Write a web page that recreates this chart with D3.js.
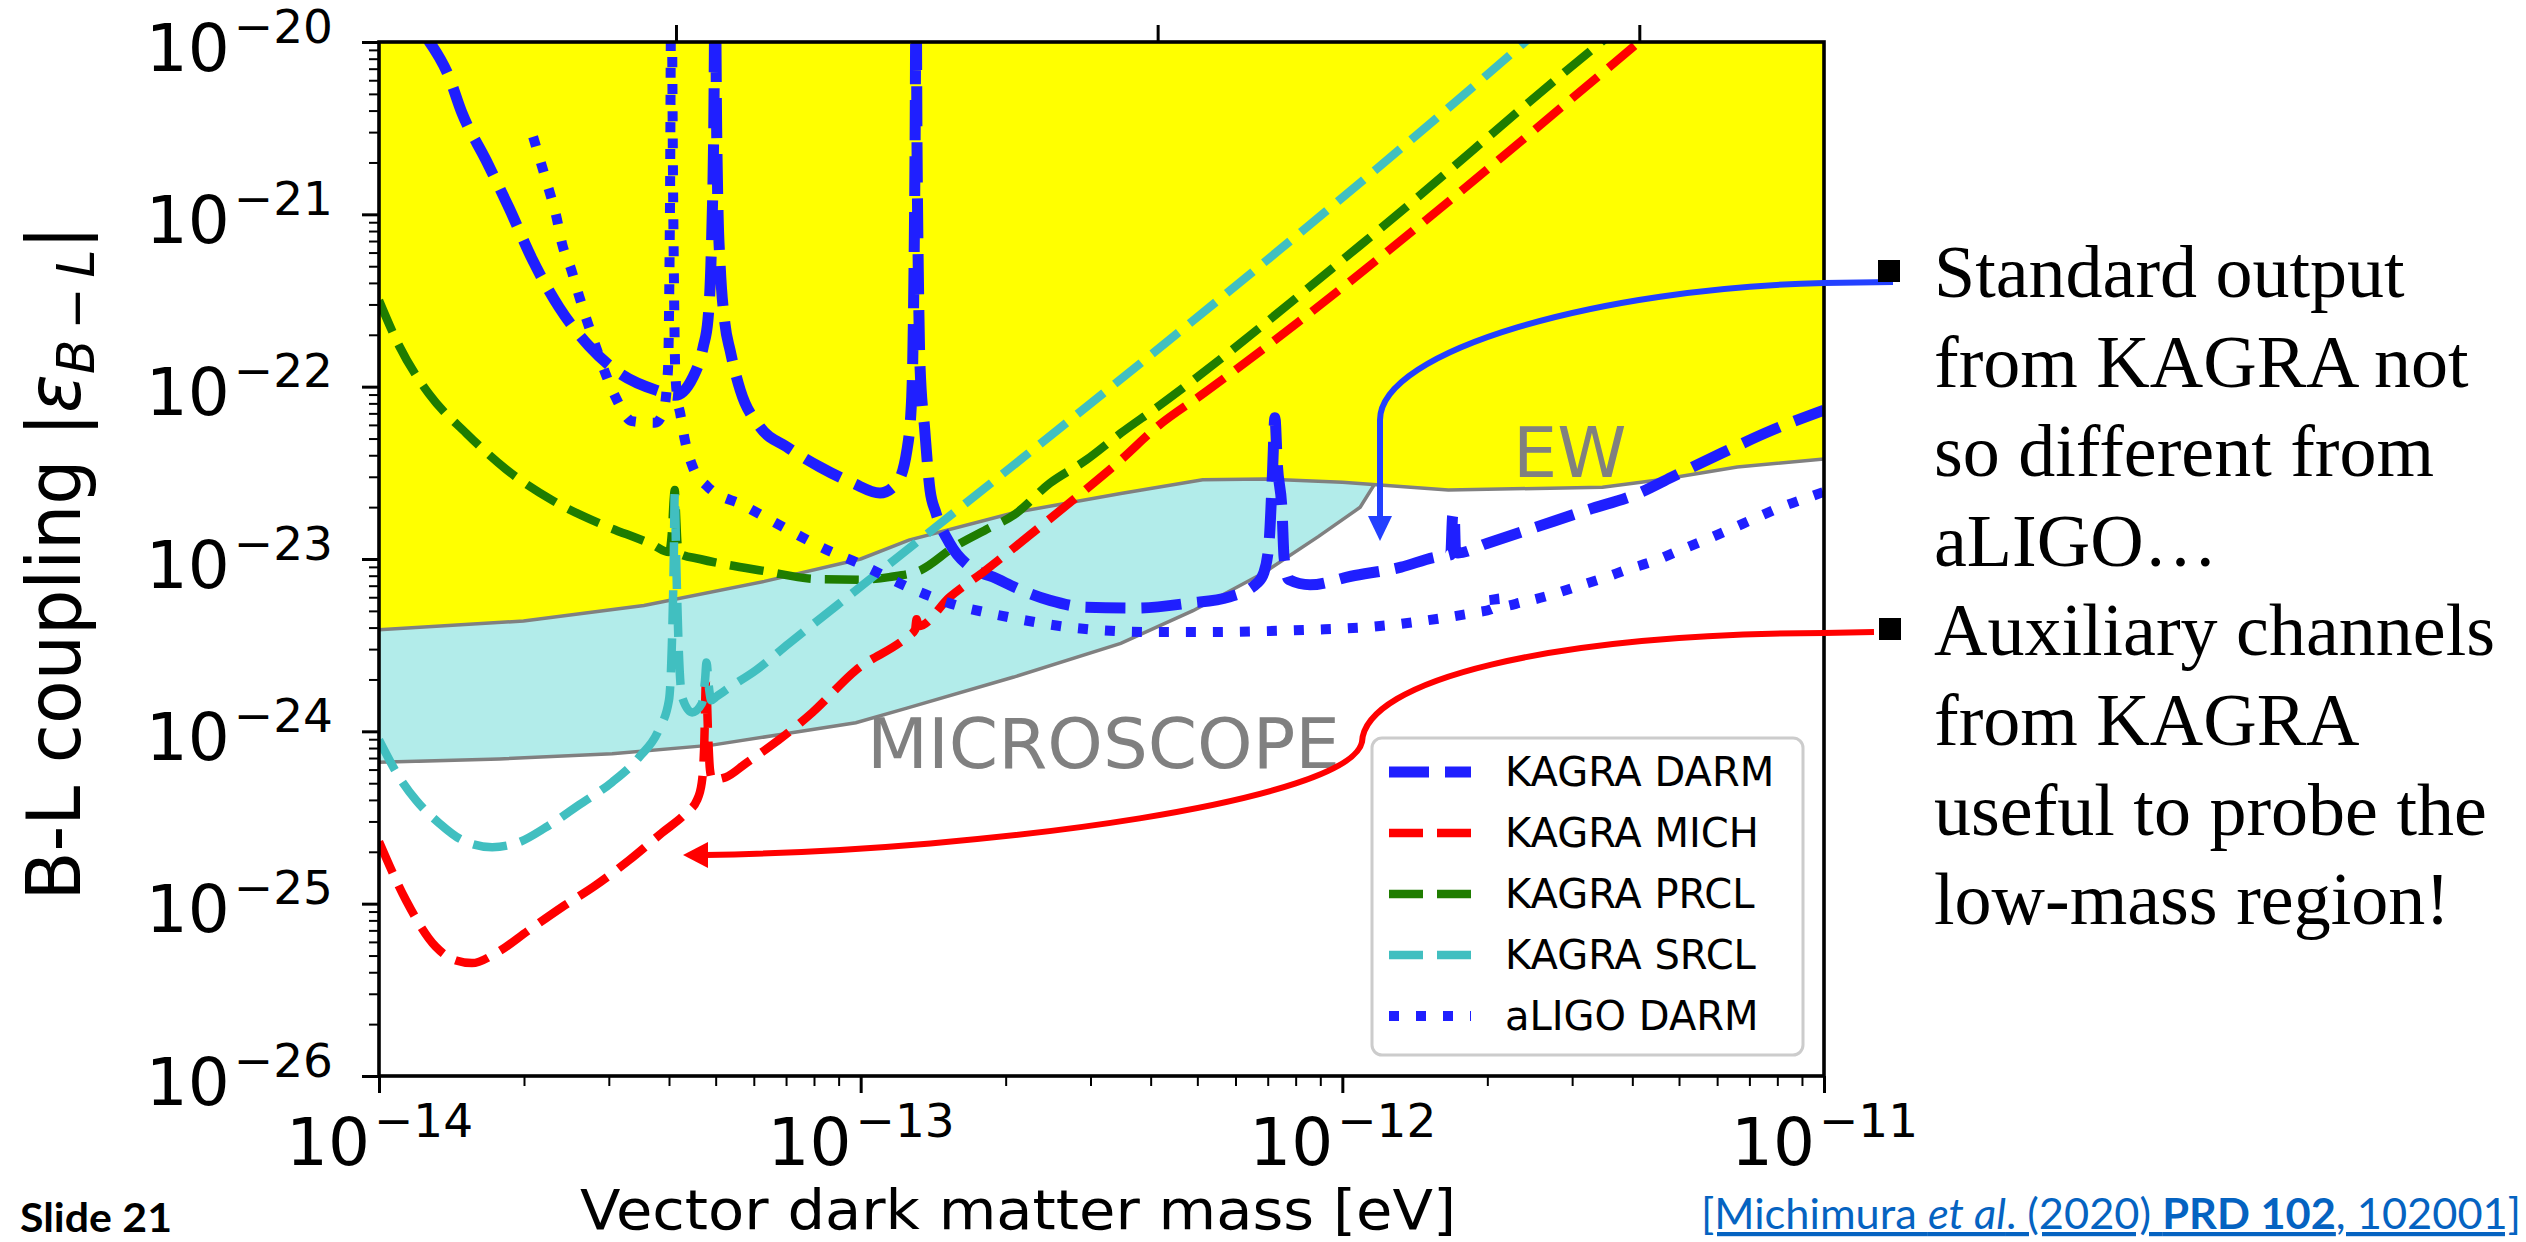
<!DOCTYPE html>
<html>
<head>
<meta charset="utf-8">
<title>Vector dark matter B-L coupling</title>
<script src="https://d3js.org/d3.v7.min.js"></script>
<style>
  body { margin: 0; background: white; }
  svg text { font-family: 'DejaVu Sans', sans-serif; }
  .serif { font-family: 'Liberation Serif', 'Times New Roman', serif; }
</style>
</head>
<body>
<div id="chart"></div>
<script>
// every pair is [log10 mass (eV), log10 |eps_B-L|]
var ewLine = [[-14.0,-23.41],[-13.7,-23.36],[-13.45,-23.27],[-13.2,-23.13],[-13.0,-23.0],[-12.9,-22.89],
  [-12.68,-22.73],[-12.46,-22.62],[-12.29,-22.54],[-12.16,-22.536],[-12.0,-22.555],[-11.78,-22.6],
  [-11.46,-22.583],[-11.34,-22.54],[-11.18,-22.466],[-11.0,-22.42]];

var microscopeLine = [[-14.0,-24.18],[-13.75,-24.16],[-13.516,-24.13],[-13.309,-24.08],[-13.17,-24.02],
  [-13.01,-23.95],[-12.904,-23.865],[-12.682,-23.685],[-12.46,-23.49],[-12.31,-23.3],[-12.163,-23.08],
  [-12.05,-22.87],[-11.963,-22.70],[-11.934,-22.57]];

var darm = [[-13.9,-19.98],[-13.855,-20.2],[-13.828,-20.41],[-13.778,-20.685],[-13.73,-20.963],[-13.682,-21.26],
  [-13.626,-21.54],[-13.564,-21.764],[-13.496,-21.93],[-13.425,-22.02],[-13.385,-22.05],[-13.348,-21.944],
  [-13.327,-21.77],[-13.317,-21.61],[-13.31,-21.2],[-13.305,-20.5],[-13.302,-19.6],[-13.299,-20.5],
  [-13.296,-21.0],[-13.292,-21.28],[-13.282,-21.63],[-13.271,-21.79],[-13.25,-22.02],[-13.209,-22.234],
  [-13.153,-22.35],[-13.084,-22.467],[-13.016,-22.56],[-12.96,-22.617],[-12.925,-22.56],[-12.904,-22.37],
  [-12.894,-22.06],[-12.89,-21.5],[-12.887,-20.6],[-12.885,-19.6],[-12.883,-20.6],[-12.88,-21.4],
  [-12.877,-21.863],[-12.867,-22.25],[-12.856,-22.6],[-12.844,-22.73],[-12.815,-22.91],[-12.771,-23.05],
  [-12.725,-23.105],[-12.667,-23.18],[-12.607,-23.24],[-12.532,-23.28],[-12.428,-23.285],[-12.318,-23.256],
  [-12.235,-23.22],[-12.177,-23.14],[-12.163,-23.08],[-12.152,-22.9],[-12.145,-22.5],[-12.14,-22.18],
  [-12.135,-22.45],[-12.125,-22.73],[-12.121,-22.99],[-12.111,-23.12],[-12.067,-23.15],[-11.982,-23.1],
  [-11.878,-23.047],[-11.808,-22.99],[-11.775,-22.975],[-11.771,-22.75],[-11.768,-22.73],[-11.765,-22.95],
  [-11.76,-22.965],[-11.70,-22.91],[-11.598,-22.815],[-11.492,-22.716],[-11.386,-22.62],[-11.316,-22.525],
  [-11.212,-22.385],[-11.106,-22.25],[-11.0,-22.136]];

var mich = [[-14.0,-24.64],[-13.944,-24.98],[-13.882,-25.25],[-13.84,-25.33],[-13.807,-25.345],[-13.757,-25.287],
  [-13.689,-25.154],[-13.62,-25.02],[-13.55,-24.893],[-13.481,-24.748],[-13.413,-24.59],[-13.363,-24.475],
  [-13.34,-24.40],[-13.33,-24.30],[-13.325,-24.1],[-13.321,-23.70],[-13.317,-24.0],[-13.313,-24.22],
  [-13.308,-24.28],[-13.28,-24.266],[-13.238,-24.185],[-13.17,-24.05],[-13.10,-23.89],[-13.01,-23.645],
  [-12.904,-23.453],[-12.887,-23.41],[-12.884,-23.35],[-12.88,-23.39],[-12.815,-23.221],[-12.74,-23.064],
  [-12.644,-22.85],[-12.547,-22.63],[-12.46,-22.426],[-12.385,-22.234],[-12.287,-22.037],[-11.384,-20.0],
  [-11.35,-19.92]];

var prcl = [[-14.0,-21.5],[-13.958,-21.764],[-13.896,-22.043],[-13.819,-22.27],[-13.736,-22.48],[-13.64,-22.66],
  [-13.537,-22.80],[-13.433,-22.915],[-13.398,-22.96],[-13.392,-22.85],[-13.388,-22.65],[-13.386,-22.60],
  [-13.384,-22.7],[-13.38,-22.92],[-13.375,-22.97],[-13.334,-23.0],[-13.2,-23.07],[-13.09,-23.117],
  [-13.0,-23.12],[-12.941,-23.105],[-12.875,-23.064],[-12.806,-22.93],[-12.74,-22.83],[-12.682,-22.745],
  [-12.607,-22.56],[-12.532,-22.426],[-12.46,-22.27],[-12.385,-22.12],[-11.963,-21.18],[-11.484,-20.05],
  [-11.44,-19.95]];

var srcl = [[-14.0,-24.05],[-13.958,-24.266],[-13.923,-24.40],[-13.875,-24.533],[-13.828,-24.63],[-13.765,-24.672],
  [-13.709,-24.643],[-13.653,-24.556],[-13.585,-24.428],[-13.516,-24.295],[-13.46,-24.15],[-13.419,-23.99],
  [-13.398,-23.82],[-13.392,-23.5],[-13.388,-23.0],[-13.386,-22.62],[-13.383,-23.0],[-13.378,-23.5],
  [-13.371,-23.80],[-13.35,-23.89],[-13.33,-23.84],[-13.323,-23.70],[-13.320,-23.60],[-13.316,-23.72],
  [-13.31,-23.82],[-13.30,-23.80],[-13.28,-23.76],[-13.217,-23.645],[-13.149,-23.49],[-13.08,-23.337],
  [-13.018,-23.2],[-11.621,-20.0],[-11.58,-19.9]];

var aligo = [[-13.68,-20.55],[-13.664,-20.70],[-13.647,-20.86],[-13.632,-21.01],[-13.62,-21.17],[-13.601,-21.32],
  [-13.585,-21.47],[-13.568,-21.62],[-13.55,-21.766],[-13.529,-21.93],[-13.508,-22.066],[-13.475,-22.2],
  [-13.427,-22.21],[-13.41,-22.15],[-13.400,-21.9],[-13.396,-21.0],[-13.393,-19.6],[-13.389,-21.0],
  [-13.385,-21.9],[-13.38,-22.08],[-13.375,-22.15],[-13.365,-22.31],[-13.348,-22.47],[-13.319,-22.577],
  [-13.242,-22.69],[-13.151,-22.83],[-13.06,-22.96],[-13.008,-23.02],[-12.956,-23.09],[-12.904,-23.16],
  [-12.852,-23.22],[-12.8,-23.27],[-12.74,-23.31],[-12.688,-23.34],[-12.63,-23.37],[-12.57,-23.395],
  [-12.518,-23.41],[-12.46,-23.42],[-12.40,-23.424],[-12.29,-23.424],[-12.18,-23.42],[-12.06,-23.41],
  [-11.947,-23.395],[-11.89,-23.38],[-11.835,-23.36],[-11.779,-23.337],[-11.723,-23.31],[-11.69,-23.29],
  [-11.686,-23.2],[-11.682,-23.28],[-11.625,-23.25],[-11.569,-23.21],[-11.513,-23.16],[-11.457,-23.11],
  [-11.407,-23.06],[-11.351,-23.01],[-11.303,-22.954],[-11.247,-22.89],[-11.197,-22.83],[-11.14,-22.76],
  [-11.09,-22.70],[-11.036,-22.646],[-11.0,-22.61]];

var xDecades = [-14, -13, -12, -11];
var yDecades = [-26, -25, -24, -23, -22, -21, -20];
var freqTicks = [10, 100, 1000];   // Hz, top axis
var legendNames = ["KAGRA DARM", "KAGRA MICH", "KAGRA PRCL", "KAGRA SRCL", "aLIGO DARM"];
var bulletText = [["Standard output", "from KAGRA not", "so different from", "aLIGO\u2026"],
                  ["Auxiliary channels", "from KAGRA", "useful to probe the", "low-mass region!"]];

var width = 2526, height = 1242;
var L = 379, R = 1824, T = 42, B = 1076;

var svg = d3.select("#chart").append("svg").attr("width", width).attr("height", height);

var x = d3.scaleLog().domain([1e-14, 1e-11]).range([L, R]);
var y = d3.scaleLog().domain([1e-26, 1e-20]).range([B, T]);
var hPlanck = 4.135667e-15; // eV s
var xf = d3.scaleLog().domain([1e-14 / hPlanck, 1e-11 / hPlanck]).range([L, R]);

function px(d) { return x(Math.pow(10, d[0])); }
function py(d) { return y(Math.pow(10, d[1])); }

svg.append("clipPath").attr("id", "plotclip")
  .append("rect").attr("x", L).attr("y", T).attr("width", R - L).attr("height", B - T);

var plot = svg.append("g").attr("clip-path", "url(#plotclip)");

// EW excluded region (yellow)
plot.append("path")
  .attr("d", d3.area().x(px).y0(T).y1(py)(ewLine))
  .attr("fill", "#ffff00");

// MICROSCOPE region (between EW and MICROSCOPE lines)
var ewPart = ewLine.filter(function(d) { return d[0] < -11.934; });
var band = ewPart.concat(microscopeLine.slice().reverse());
plot.append("path")
  .attr("d", d3.line().x(px).y(py)(band) + "Z")
  .attr("fill", "#b2ecea");

[ewLine, microscopeLine].forEach(function(data) {
  plot.append("path")
    .attr("d", d3.line().x(px).y(py)(data))
    .attr("fill", "none").attr("stroke", "#808080").attr("stroke-width", 3.5);
});

var series = [
  {data: darm,  color: "#1f1fff", width: 11,  dash: "40,16"},
  {data: mich,  color: "#ff0000", width: 8.5, dash: "34,14"},
  {data: prcl,  color: "#1f7d00", width: 8.5, dash: "34,14"},
  {data: srcl,  color: "#41bfc0", width: 8.5, dash: "34,14"},
  {data: aligo, color: "#1f1fff", width: 10,  dash: "10,17"}
];

var curve = d3.line().x(px).y(py).curve(d3.curveMonotoneX);
series.forEach(function(s) {
  plot.append("path")
    .attr("d", curve(s.data))
    .attr("fill", "none")
    .attr("stroke", s.color)
    .attr("stroke-width", s.width)
    .attr("stroke-dasharray", s.dash)
    .attr("stroke-linejoin", "round");
});

// region labels
svg.append("text").attr("x", 1513).attr("y", 477).attr("font-size", 70)
  .attr("fill", "#808080").text("EW");
svg.append("text").attr("x", 867).attr("y", 768).attr("font-size", 70)
  .attr("textLength", 473).attr("lengthAdjust", "spacingAndGlyphs")
  .attr("fill", "#808080").text("MICROSCOPE");

// axes
function minorValues(decades) {
  var out = [];
  for (var i = 0; i < decades.length - 1; i++)
    for (var m = 2; m <= 9; m++) out.push(m * Math.pow(10, decades[i]));
  return out;
}
var pow10 = function(e) { return Math.pow(10, e); };

function styleAxis(g, w) {
  g.select(".domain").remove();
  g.selectAll(".tick line").attr("stroke", "black").attr("stroke-width", w);
}

function expLabel(g, anchor, yy, xx) {
  g.selectAll(".tick text").each(function(d) {
    var t = d3.select(this);
    var e = Math.round(Math.log10(d));
    t.text(null).attr("dy", null).attr("y", yy).attr("fill", "black")
      .attr("font-size", 66).attr("text-anchor", anchor)
      .style("font-family", "'DejaVu Sans', sans-serif");
    if (xx !== undefined) t.attr("x", xx);
    t.append("tspan").text("10");
    t.append("tspan").attr("dy", -28).attr("dx", 4).attr("font-size", 47).text("\u2212" + Math.abs(e));
  });
}

svg.append("g").attr("transform", "translate(0," + B + ")")
  .call(d3.axisBottom(x).tickValues(minorValues(xDecades)).tickSize(10).tickFormat(""))
  .call(function(g) { styleAxis(g, 2); });
svg.append("g").attr("transform", "translate(0," + B + ")")
  .call(d3.axisBottom(x).tickValues(xDecades.map(pow10)).tickSize(17).tickFormat(function() { return "x"; }))
  .call(function(g) { styleAxis(g, 3); expLabel(g, "middle", 89); });

svg.append("g").attr("transform", "translate(" + L + ",0)")
  .call(d3.axisLeft(y).tickValues(minorValues(yDecades)).tickSize(10).tickFormat(""))
  .call(function(g) { styleAxis(g, 2); });
svg.append("g").attr("transform", "translate(" + L + ",0)")
  .call(d3.axisLeft(y).tickValues(yDecades.map(pow10)).tickSize(17).tickFormat(function() { return "x"; }))
  .call(function(g) { styleAxis(g, 3); expLabel(g, "end", 28, -46); });

svg.append("g").attr("transform", "translate(0," + T + ")")
  .call(d3.axisTop(xf).tickValues(freqTicks).tickSize(17).tickFormat(""))
  .call(function(g) { styleAxis(g, 3); });

// frame
svg.append("rect").attr("x", L).attr("y", T).attr("width", R - L).attr("height", B - T)
  .attr("fill", "none").attr("stroke", "black").attr("stroke-width", 3.6);

// axis labels
svg.append("text").attr("x", 1018).attr("y", 1229).attr("font-size", 55)
  .attr("text-anchor", "middle").attr("textLength", 876).attr("lengthAdjust", "spacingAndGlyphs")
  .text("Vector dark matter mass [eV]");

var ylab = svg.append("text").attr("transform", "translate(80,563) rotate(-90)")
  .attr("font-size", 74).attr("text-anchor", "middle")
  .attr("textLength", 675).attr("lengthAdjust", "spacingAndGlyphs");
ylab.append("tspan").text("B-L coupling |");
ylab.append("tspan").attr("font-style", "italic").text("\u03b5");
ylab.append("tspan").attr("font-style", "italic").attr("font-size", 52).attr("dy", 14).text("B\u2009\u2212\u2009L");
ylab.append("tspan").attr("dy", -14).text("|");

// legend
var leg = svg.append("g");
leg.append("rect").attr("x", 1372).attr("y", 738).attr("width", 431).attr("height", 317)
  .attr("rx", 10).attr("fill", "white").attr("fill-opacity", 0.85)
  .attr("stroke", "#cccccc").attr("stroke-width", 3);
legendNames.forEach(function(name, i) {
  var s = series[i], yy = 772 + i * 61;
  leg.append("line").attr("x1", 1389).attr("x2", 1471).attr("y1", yy).attr("y2", yy)
    .attr("stroke", s.color).attr("stroke-width", s.width).attr("stroke-dasharray", s.dash);
  leg.append("text").attr("x", 1505).attr("y", yy + 14).attr("font-size", 40).text(name);
});

// slide annotations
var ann = svg.append("g");
ann.append("path")
  .attr("d", "M1893,282 L1824,283 C1600,288 1380,350 1380,420 L1380,522")
  .attr("fill", "none").attr("stroke", "#2340ff").attr("stroke-width", 6);
ann.append("path").attr("d", "M1380,541 L1368,516 L1392,516 Z").attr("fill", "#2340ff");
ann.append("path")
  .attr("d", "M1874,632 L1824,633 C1550,634 1365,680 1362,742 C1350,800 1000,850 705,855")
  .attr("fill", "none").attr("stroke", "#ff0000").attr("stroke-width", 6);
ann.append("path").attr("d", "M683,855 L708,842 L708,868 Z").attr("fill", "#ff0000");

ann.append("rect").attr("x", 1878).attr("y", 260).attr("width", 22).attr("height", 22).attr("fill", "black");
ann.append("rect").attr("x", 1879).attr("y", 618).attr("width", 22).attr("height", 22).attr("fill", "black");

bulletText[0].concat(bulletText[1]).forEach(function(line, i) {
  svg.append("text").attr("class", "serif").attr("x", 1934).attr("y", 297 + i * 89.6)
    .attr("font-size", 74).attr("fill", "black").text(line);
});

svg.append("text").attr("x", 20).attr("y", 1232).attr("font-size", 40)
  .style("font-family", "Lato, sans-serif").attr("font-weight", "bold")
  .attr("textLength", 152).attr("lengthAdjust", "spacingAndGlyphs").text("Slide 21");

var cite = svg.append("text").attr("x", 1701).attr("y", 1229).attr("font-size", 42)
  .style("font-family", "Lato, sans-serif").attr("fill", "#0563c1")
  .attr("text-decoration", "underline")
  .attr("textLength", 820).attr("lengthAdjust", "spacingAndGlyphs");
cite.append("tspan").text("[Michimura ");
cite.append("tspan").attr("font-style", "italic").text("et al");
cite.append("tspan").text(". (2020) ");
cite.append("tspan").attr("font-weight", "bold").text("PRD 102");
cite.append("tspan").text(", 102001]");
</script>
</body>
</html>
